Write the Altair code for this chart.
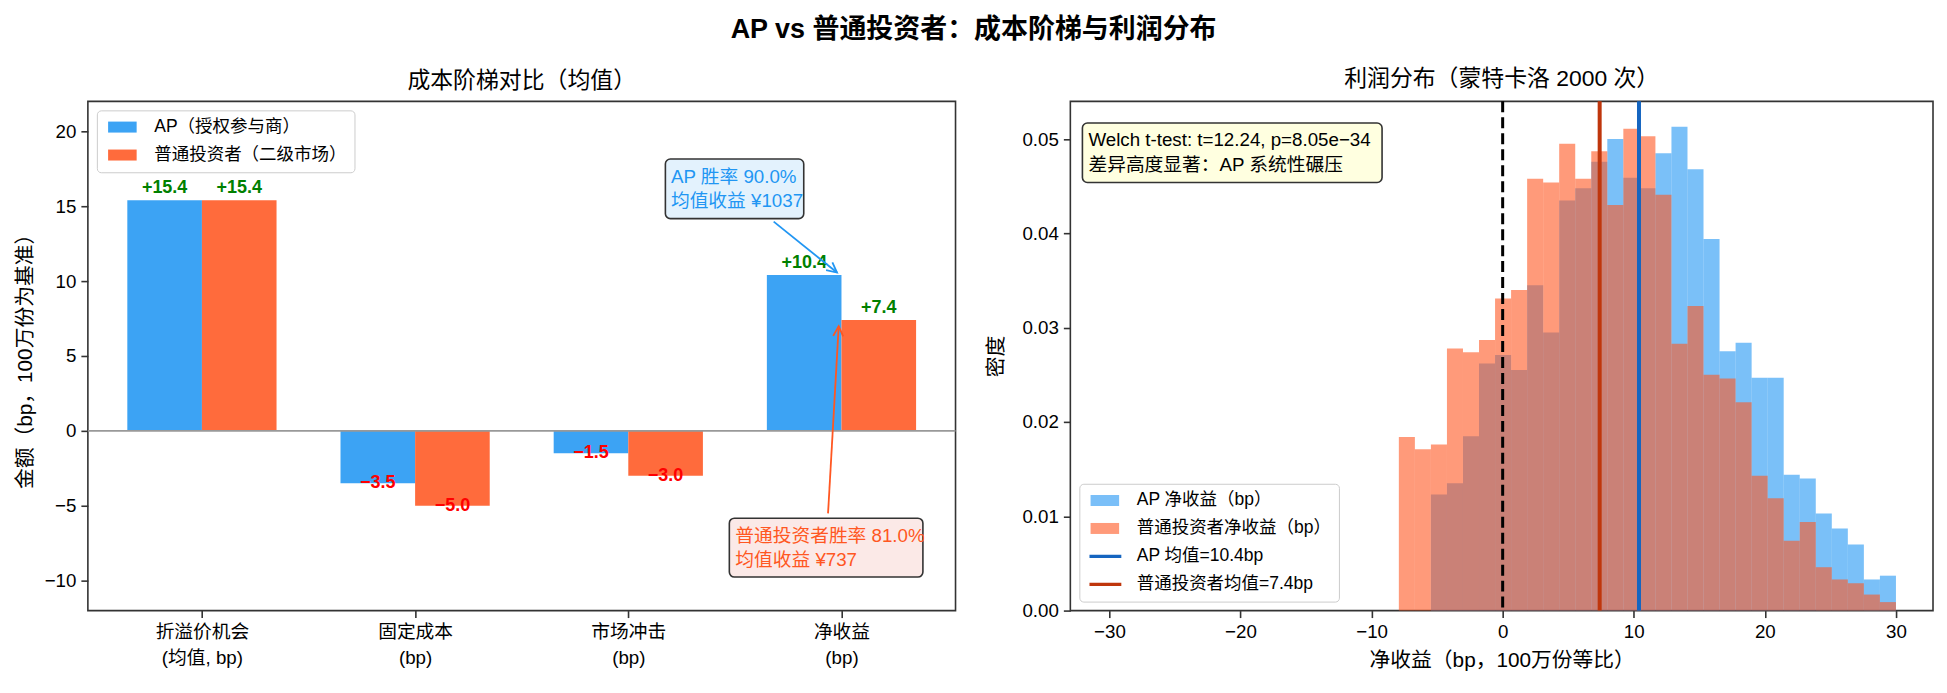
import json
import altair as alt
import pandas as pd

FONT = "Liberation Sans, Noto Sans CJK SC, sans-serif"

# ---------------- data: left panel ----------------
cat_line1 = ["折溢价机会", "固定成本", "市场冲击", "净收益"]
cat_line2 = ["(均值, bp)", "(bp)", "(bp)", "(bp)"]
series_names = ["AP（授权参与商）", "普通投资者（二级市场）"]
ap_values = [15.4, -3.5, -1.5, 10.4]
retail_values = [15.4, -5.0, -3.0, 7.4]
ap_note = ["AP 胜率 90.0%", "均值收益 ¥1037"]
retail_note = ["普通投资者胜率 81.0%", "均值收益 ¥737"]

# ---------------- data: right panel ----------------
hist_start = -7.92
hist_width = 1.2233
ap_density = [0, 0, 0.0123, 0.0135, 0.0185, 0.0262, 0.0271, 0.0255, 0.0345, 0.0295,
              0.0435, 0.0448, 0.0476, 0.0500, 0.0459, 0.0448, 0.0485, 0.0513, 0.0468, 0.0394,
              0.0275, 0.0284, 0.0247, 0.0247, 0.0144, 0.0140, 0.0103, 0.0087, 0.0070, 0.0033,
              0.0037]
retail_density = [0.0184, 0.0171, 0.0176, 0.0278, 0.0274, 0.0287, 0.0331, 0.0340, 0.0458, 0.0454,
                  0.0495, 0.0458, 0.0487, 0.0430, 0.0511, 0.0503, 0.0441, 0.0283, 0.0323, 0.0250,
                  0.0246, 0.0221, 0.0143, 0.0119, 0.0074, 0.0094, 0.0046, 0.0033, 0.0029, 0.0017,
                  0.0009]
ap_mean = 10.4
retail_mean = 7.4
hist_legend = ["AP 净收益（bp）", "普通投资者净收益（bp）", "AP 均值=10.4bp", "普通投资者均值=7.4bp"]
stats_note = ["Welch t-test: t=12.24, p=8.05e−34", "差异高度显著：AP 系统性碾压"]

# ---------------- styles ----------------
AP_BAR = "#3CA3F4"
RT_BAR = "#FF6B3C"
BAR_W = 0.35
W_L, W_R, H = 869, 864, 510

# ================= LEFT PANEL =================
rows = []
for i in range(4):
    rows.append(dict(series=series_names[0], v=ap_values[i], x0=i - BAR_W, x1=float(i)))
    rows.append(dict(series=series_names[1], v=retail_values[i], x0=float(i), x1=i + BAR_W))
bars_df = pd.DataFrame(rows)
bars_df["base"] = 0.0
bars_df["xc"] = (bars_df.x0 + bars_df.x1) / 2
bars_df["lab"] = bars_df.v.map(lambda v: f"{v:+.1f}".replace("-", "−"))
bars_df["lc"] = bars_df.v.map(lambda v: "#008000" if v >= 0 else "#FF0000")

xl = alt.Scale(domain=[-0.535, 3.535], nice=False, zero=False)
yl = alt.Scale(domain=[-12, 22], nice=False, zero=False)
label_arr = json.dumps([[a, b] for a, b in zip(cat_line1, cat_line2)], ensure_ascii=False)

patch_path = "M-1,-1H4.2V1H-1Z"

legend_common = dict(title=None, symbolSize=121, symbolStrokeWidth=0, labelFontSize=17.5,
                     labelFont=FONT, labelOffset=32, labelLimit=500, rowPadding=9, padding=8,
                     fillColor="white", strokeColor="#cccccc", cornerRadius=4)

bars = alt.Chart(bars_df).mark_rect().encode(
    x=alt.X("x0:Q", scale=xl, axis=alt.Axis(values=[0, 1, 2, 3], labelExpr=f"{label_arr}[datum.value]",
                                            title=None, labelLineHeight=26)),
    x2="x1:Q",
    y=alt.Y("v:Q", scale=yl, axis=alt.Axis(values=[-10, -5, 0, 5, 10, 15, 20],
                                           title="金额（bp，100万份为基准）")),
    y2="base:Q",
    color=alt.Color("series:N", scale=alt.Scale(domain=series_names, range=[AP_BAR, RT_BAR]),
                    legend=alt.Legend(orient="top-left", offset=9, symbolType=patch_path, **legend_common)),
)

zero_l = alt.Chart(pd.DataFrame({"y": [0]})).mark_rule(color="#999999", strokeWidth=1.6).encode(y="y:Q")

pos_lab = alt.Chart(bars_df[bars_df.v >= 0]).mark_text(font=FONT, fontSize=18, fontWeight="bold",
                                                        baseline="bottom", dy=-3).encode(
    x="xc:Q", y="v:Q", text="lab:N", color=alt.Color("lc:N", scale=None))
neg_lab = alt.Chart(bars_df[bars_df.v < 0]).mark_text(font=FONT, fontSize=18, fontWeight="bold",
                                                       baseline="middle").encode(
    x="xc:Q", y="v:Q", text="lab:N", color=alt.Color("lc:N", scale=None))

ann_boxes = pd.DataFrame({"x0": [2.174, 2.474], "x1": [2.823, 3.382],
                          "y0": [14.17, -9.76], "y1": [18.15, -5.83],
                          "fill": ["#E3F2FD", "#FBE9E7"]})
boxes_l = alt.Chart(ann_boxes).mark_rect(stroke="#333333", strokeWidth=1.6, cornerRadius=5).encode(
    x="x0:Q", x2="x1:Q", y="y0:Q", y2="y1:Q", fill=alt.Fill("fill:N", scale=None))

ann_text = pd.DataFrame({"x": [2.20, 2.20, 2.502, 2.502],
                         "y": [16.94, 15.33, -6.99, -8.60],
                         "t": ap_note + retail_note,
                         "c": ["#2196F3", "#2196F3", "#FF5722", "#FF5722"]})
texts_l = alt.Chart(ann_text).mark_text(font=FONT, fontSize=18.75, align="left", baseline="middle").encode(
    x="x:Q", y="y:Q", text="t:N", color=alt.Color("c:N", scale=None))

arrows = pd.DataFrame({"x": [2.682, 2.937], "y": [13.97, -5.51], "x2": [2.979, 2.987], "y2": [10.57, 6.99],
                       "c": ["#2196F3", "#FF5722"]})
arrow_lines = alt.Chart(arrows).mark_rule(strokeWidth=1.8).encode(
    x="x:Q", y="y:Q", x2="x2:Q", y2="y2:Q", color=alt.Color("c:N", scale=None))
head_path = "M-0.5,1L0,0L0.5,1"
head1 = alt.Chart(arrows.iloc[[0]]).mark_point(shape=head_path, filled=False, size=400, strokeWidth=1.8,
                                                angle=129, opacity=1).encode(
    x="x2:Q", y="y2:Q", color=alt.Color("c:N", scale=None))
head2 = alt.Chart(arrows.iloc[[1]]).mark_point(shape=head_path, filled=False, size=400, strokeWidth=1.8,
                                                angle=3, opacity=1).encode(
    x="x2:Q", y="y2:Q", color=alt.Color("c:N", scale=None))

left = alt.layer(bars, zero_l, pos_lab, neg_lab, arrow_lines, head1, head2, boxes_l, texts_l).properties(
    width=W_L, height=H,
    title=alt.TitleParams("成本阶梯对比（均值）", fontSize=22.9, fontWeight="normal", font=FONT, offset=8))

# ================= RIGHT PANEL =================
hrows = []
for name, dens in ((hist_legend[0], ap_density), (hist_legend[1], retail_density)):
    for i, d in enumerate(dens):
        if d > 0:
            x0 = hist_start + i * hist_width
            hrows.append(dict(series=name, x0=x0, x1=x0 + hist_width, d=d, base=0.0))
hist_df = pd.DataFrame(hrows)

xr = alt.Scale(domain=[-32.98, 32.83], nice=False, zero=False)
yr = alt.Scale(domain=[0, 0.054], nice=False, zero=False)

hist_ap = alt.Chart(hist_df[hist_df.series == hist_legend[0]]).mark_rect(color="#2196F3", opacity=0.6).encode(
    x=alt.X("x0:Q", scale=xr, axis=alt.Axis(values=[-30, -20, -10, 0, 10, 20, 30],
                                            title="净收益（bp，100万份等比）")),
    x2="x1:Q",
    y=alt.Y("d:Q", scale=yr, axis=alt.Axis(values=[0, 0.01, 0.02, 0.03, 0.04, 0.05], format=".2f",
                                           title="密度", titlePadding=15)),
    y2="base:Q")
hist_rt = alt.Chart(hist_df[hist_df.series == hist_legend[1]]).mark_rect(color="#FF5722", opacity=0.6).encode(
    x="x0:Q", x2="x1:Q", y="d:Q", y2="base:Q")

zero_r = alt.Chart(pd.DataFrame({"x": [0]})).mark_rule(color="black", strokeWidth=3, strokeDash=[11, 5]).encode(
    x="x:Q")
means = alt.Chart(pd.DataFrame({"x": [ap_mean, retail_mean], "c": ["#1565C0", "#BF360C"]})).mark_rule(
    strokeWidth=4).encode(x="x:Q", color=alt.Color("c:N", scale=None))

line_path = "M-1.2,-0.3H4.6V0.3H-1.2Z"
leg_df = pd.DataFrame({"series": hist_legend, "x": [-100.0] * 4, "y": [0.0] * 4})
legend_r = alt.Chart(leg_df).mark_point(filled=True, opacity=1, clip=True, strokeWidth=0).encode(
    x="x:Q", y="y:Q",
    color=alt.Color("series:N", scale=alt.Scale(domain=hist_legend,
                                                range=["#7ABFF8", "#FF9A7A", "#1565C0", "#BF360C"]),
                    legend=alt.Legend(orient="bottom-left", offset=9, **legend_common)),
    shape=alt.Shape("series:N", scale=alt.Scale(domain=hist_legend,
                                                range=[patch_path, patch_path, line_path, line_path])))

stat_box = alt.Chart(pd.DataFrame({"x0": [-32.06], "x1": [-9.2], "y0": [0.0454], "y1": [0.0517]})).mark_rect(
    fill="#FFFFE0", stroke="#333333", strokeWidth=1.6, cornerRadius=5).encode(
    x="x0:Q", x2="x1:Q", y="y0:Q", y2="y1:Q")
stat_txt = alt.Chart(pd.DataFrame({"x": [-31.6, -31.6], "y": [0.04985, 0.0472], "t": stats_note})).mark_text(
    font=FONT, fontSize=18.75, align="left", baseline="middle", color="black").encode(
    x="x:Q", y="y:Q", text="t:N")

right = alt.layer(hist_ap, hist_rt, zero_r, means, legend_r, stat_box, stat_txt).properties(
    width=W_R, height=H,
    title=alt.TitleParams("利润分布（蒙特卡洛 2000 次）", fontSize=22.9, fontWeight="normal", font=FONT, offset=8))

chart = alt.hconcat(left, right, spacing=27).resolve_scale(color="independent", shape="independent").properties(
    title=alt.TitleParams("AP vs 普通投资者：成本阶梯与利润分布", fontSize=27, fontWeight="bold", font=FONT,
                          anchor="middle", offset=24),
    padding={"left": 5, "top": 7, "right": 5, "bottom": 3},
).configure_view(stroke="#333333", strokeWidth=1.6).configure_axis(
    labelFont=FONT, titleFont=FONT, labelFontSize=18.75, titleFontSize=20.8, titleFontWeight="normal",
    labelColor="black", titleColor="black", tickSize=7, tickWidth=1.6, tickColor="#333333",
    domain=False, grid=False, labelPadding=5, titlePadding=9,
).configure_title(color="black")

chart.save("out.html", embed_options={"renderer": "svg", "actions": False})
